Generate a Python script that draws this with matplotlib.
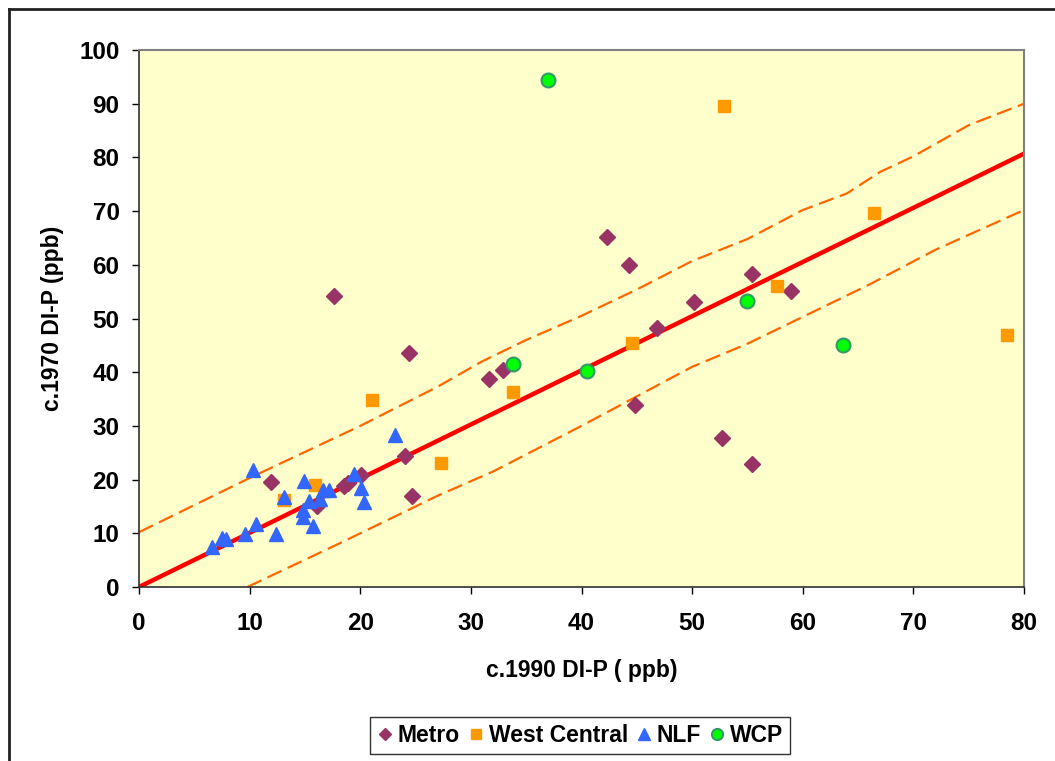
import matplotlib
matplotlib.use("Agg")
from matplotlib import pyplot as plt
from matplotlib.lines import Line2D

plt.rcParams['font.family'] = ['Liberation Sans', 'DejaVu Sans']
plt.rcParams['font.weight'] = 'bold'

# c.1990 vs c.1970 dissolved inorganic P (ppb), by region
metro_x = [17.6, 24.4, 42.3, 44.3, 31.6, 32.9, 46.8, 50.2, 55.4, 58.9,
           44.8, 52.7, 55.4, 11.9, 18.5, 18.9, 20.1, 24.05, 24.7, 16.1]
metro_y = [54.2, 43.6, 65.1, 60.0, 38.7, 40.5, 48.2, 53.0, 58.2, 55.2,
           33.9, 27.7, 22.9, 19.6, 18.8, 19.4, 20.9, 24.4, 16.9, 15.1]

wc_x = [52.9, 66.4, 57.7, 78.5, 44.6, 33.8, 21.1, 27.3, 15.9, 13.1]
wc_y = [89.6, 69.7, 56.1, 46.9, 45.4, 36.3, 34.8, 23.1, 19.0, 16.2]

nlf_x = [23.1, 10.3, 14.9, 13.1, 19.4, 16.6, 17.2, 20.1, 20.3, 15.4,
         16.4, 14.8, 14.8, 15.7, 12.4, 10.6, 9.6, 7.5, 7.9, 6.6]
nlf_y = [28.3, 21.7, 19.8, 16.8, 21.0, 18.1, 18.0, 18.4, 15.8, 16.1,
         16.3, 14.3, 13.1, 11.4, 9.8, 11.7, 9.8, 9.2, 8.9, 7.5]

wcp_x = [37.0, 33.8, 40.5, 55.0, 63.6]
wcp_y = [94.4, 41.5, 40.3, 53.3, 45.1]

# regression line and its bands
fit_x = [0, 80]
fit_y = [0, 80.7]
upper_x = [0, 10, 20, 27, 31, 35, 40, 45, 50, 55, 60, 64, 67, 70, 75, 80]
upper_y = [10.2, 20.3, 30.0, 37.3, 42.0, 46.0, 50.5, 55.4, 60.7, 64.8, 70.2,
           73.3, 77.3, 80.2, 86.0, 90.0]
lower_x = [9.8, 18, 27, 32, 40, 45, 50, 55, 60, 66, 72, 80]
lower_y = [0, 8.0, 17.0, 21.5, 30.0, 35.5, 41.0, 45.3, 50.3, 56.3, 62.8, 70.2]

fig = plt.figure(figsize=(10.55, 7.61), dpi=100)
ax = fig.add_axes([139 / 1055, 1 - 587 / 761, 885 / 1055, 537 / 761])
ax.set_facecolor('#FFFFCC')

ax.plot(upper_x, upper_y, color='#FF6600', lw=1.6, dashes=(7, 3), zorder=2)
ax.plot(lower_x, lower_y, color='#FF6600', lw=1.6, dashes=(7, 3), zorder=2)
ax.plot(fit_x, fit_y, color='#FF0000', lw=3.2, zorder=2)

ax.plot(metro_x, metro_y, 'D', ms=8, color='#993366', mec='#993366', ls='none', label='Metro', zorder=3)
ax.plot(wc_x, wc_y, 's', ms=8.5, color='#FF9900', mec='#FF9900', ls='none', label='West Central', zorder=3)
ax.plot(nlf_x, nlf_y, '^', ms=10, color='#3366FF', mec='#3366FF', ls='none', label='NLF', zorder=3)
ax.plot(wcp_x, wcp_y, 'o', ms=10, color='#00FF00', mec='#339966', mew=1.5, ls='none', label='WCP', zorder=3)

ax.set_xlim(0, 80)
ax.set_ylim(0, 100)
ax.set_xticks(range(0, 81, 10))
ax.set_yticks(range(0, 101, 10))
ax.tick_params(axis='x', direction='out', length=5, width=1, pad=13, labelsize=17.5)
ax.tick_params(axis='y', direction='out', length=5, width=1, pad=9, labelsize=17.5)

for side in ['top', 'right']:
    ax.spines[side].set_color('#808080')
    ax.spines[side].set_linewidth(1.5)
for side in ['left', 'bottom']:
    ax.spines[side].set_color('#303030')
    ax.spines[side].set_linewidth(1.2)

ax.set_xlabel('c.1990 DI-P ( ppb)', fontsize=16.5, fontweight='bold', labelpad=17)
ax.set_ylabel('c.1970 DI-P (ppb)', fontsize=16.5, fontweight='bold', labelpad=11)

leg = fig.legend(loc='center', bbox_to_anchor=(580 / 1055, 1 - 735.5 / 761), ncol=4,
                 fontsize=16.5, frameon=True, fancybox=False, handletextpad=0.2,
                 columnspacing=0.35, handlelength=0.7, borderpad=0.3,
                 borderaxespad=0, markerscale=0.8)
leg.get_frame().set_edgecolor('black')
leg.get_frame().set_linewidth(1)

# chart frame, left and top edges
fig.add_artist(Line2D([9 / 1055, 9 / 1055], [0, 1 - 9 / 761], color='#222222', lw=2))
fig.add_artist(Line2D([9 / 1055, 1], [1 - 9 / 761, 1 - 9 / 761], color='#222222', lw=2))

fig.savefig('out.png', dpi=100)
